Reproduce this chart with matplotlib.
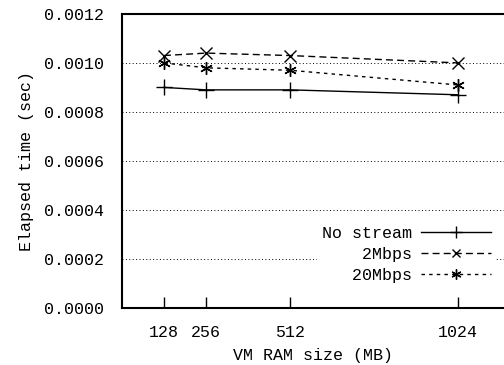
"""
plot.py - elapsed time vs VM RAM size, gnuplot-like styling.
"""
import matplotlib
matplotlib.use("Agg")
import matplotlib.pyplot as plt

# data
ram_sizes = [128, 256, 512, 1024]
no_stream = [0.00090, 0.00089, 0.00089, 0.00087]
mbps_2 = [0.00103, 0.00104, 0.00103, 0.00100]
mbps_20 = [0.00100, 0.00098, 0.00097, 0.00091]
y_ticks = [0.0, 0.0002, 0.0004, 0.0006, 0.0008, 0.0010, 0.0012]
# monospace font, so leading spaces right-align the legend text
labels = ["No stream", "   2Mbps", "  20Mbps"]

plt.rcParams["font.family"] = ["Liberation Mono", "DejaVu Sans Mono"]
plt.rcParams["font.size"] = 12

fig = plt.figure(figsize=(5.04, 3.65), dpi=100)
ax = fig.add_axes([0.242, 0.156, 0.758, 0.806])

ax.plot(ram_sizes, no_stream, color="black", lw=1.0, ls="-",
        marker="+", ms=11, mew=1.0, label=labels[0])
ax.plot(ram_sizes, mbps_2, color="black", lw=1.0, ls=(0, (5, 3)),
        marker="x", ms=8, mew=1.0, label=labels[1])
ax.plot(ram_sizes, mbps_20, color="black", lw=1.0, ls=(0, (2.5, 3)),
        marker=(6, 2, 0), ms=9, mew=1.0, label=labels[2])

ax.set_xlim(0, 1164)
ax.set_ylim(0, 0.0012)
ax.set_xticks(ram_sizes)
ax.set_yticks(y_ticks)
ax.set_yticklabels([f"{v:.4f}" for v in y_ticks])

ax.grid(axis="y", color="black", ls=(0, (1, 2.5)), lw=0.7)
ax.set_axisbelow(True)
ax.tick_params(axis="x", direction="in", length=8, width=1.0, pad=12)
ax.tick_params(axis="y", direction="in", length=0, pad=13)

for side in ["left", "bottom", "top"]:
    ax.spines[side].set_linewidth(1.5)
ax.spines["right"].set_visible(False)

ax.set_xlabel("VM RAM size (MB)", labelpad=6)
ax.set_ylabel("Elapsed time (sec)", labelpad=7)

leg = ax.legend(loc="lower right", bbox_to_anchor=(1.0, 0.04), markerfirst=False,
                handlelength=4.2, handletextpad=0.5, labelspacing=0.35,
                borderpad=0.3, fancybox=False, framealpha=1.0, markerscale=0.8)
leg.get_frame().set_edgecolor("none")

fig.savefig("out.png", dpi=100)
